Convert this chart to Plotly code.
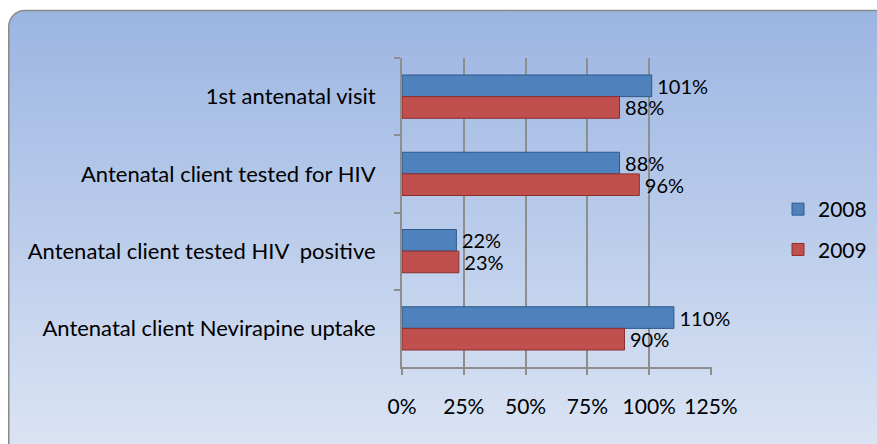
"""
Antenatal indicators 2008 vs 2009 - horizontal grouped bar chart
"""
import base64
import plotly.graph_objects as go

# Data
categories = [
    '1st antenatal visit',
    'Antenatal client tested for HIV',
    'Antenatal client tested HIV  positive',
    'Antenatal client Nevirapine uptake',
]
values_2008 = [101, 88, 22, 110]
values_2009 = [88, 96, 23, 90]
series_names = ['2008', '2009']
x_ticks = [0, 25, 50, 75, 100, 125]
x_tick_labels = ['0%', '25%', '50%', '75%', '100%', '125%']

BLUE = '#4F81BD'
RED = '#C0504D'
FONT = 'Lato, Open Sans, sans-serif'
GRID = '#8E8E8E'

W, H = 877, 444
L, T = 402, 58
R, B = W - 712, H - 367
PW, PH = W - L - R, H - T - B

# Card background (rounded, vertical gradient) as an inline svg
svg = (
    f'<svg xmlns="http://www.w3.org/2000/svg" width="{W}" height="{H}">'
    '<defs><linearGradient id="g" x1="0" y1="0" x2="0" y2="1">'
    '<stop offset="0" stop-color="#9BB5E2"/>'
    '<stop offset="1" stop-color="#DFE7F5"/>'
    '</linearGradient></defs>'
    '<rect x="8.75" y="10.5" width="900" height="470" rx="16" ry="16" '
    'fill="url(#g)" stroke="#8A8A8A" stroke-width="1.5"/>'
    '</svg>'
)
svg_uri = 'data:image/svg+xml;base64,' + base64.b64encode(svg.encode()).decode()

fig = go.Figure()

for name, vals, color, line_color in [
    (series_names[0], values_2008, BLUE, '#2F5A8C'),
    (series_names[1], values_2009, RED, '#8C2F2D'),
]:
    fig.add_trace(go.Bar(
        name=name,
        legendgroup=name,
        y=categories,
        x=vals,
        orientation='h',
        marker=dict(color=color, line=dict(color=line_color, width=1)),
        text=[f'\u2009{v}%' for v in vals],
        textposition='outside',
        constraintext='none',
        cliponaxis=False,
        textfont=dict(family=FONT, size=20, color='black'),
        hovertemplate='<b>%{y}</b><br>' + name + ': %{x}%<extra></extra>',
    ))

fig.update_layout(
    width=W,
    height=H,
    margin=dict(l=L, r=R, t=T, b=B, autoexpand=False),
    paper_bgcolor='white',
    plot_bgcolor='rgba(0,0,0,0)',
    barmode='group',
    bargap=0.44,
    bargroupgap=0,
    font=dict(family=FONT, size=21, color='black'),
    images=[dict(
        source=svg_uri, xref='paper', yref='paper',
        x=-L / PW, y=1 + T / PH, sizex=W / PW, sizey=H / PH,
        xanchor='left', yanchor='top', sizing='stretch', layer='below',
    )],
    legend=dict(
        x=(778 - L) / PW, y=1 - (229.5 - T) / PH, xanchor='left', yanchor='middle',
        font=dict(family=FONT, size=21, color='black'),
        bgcolor='rgba(0,0,0,0)',
        tracegroupgap=10,
        traceorder='grouped',
        itemwidth=30,
    ),
    showlegend=True,
)

fig.update_xaxes(
    range=[0, 125.4],
    tickvals=x_ticks,
    ticktext=x_tick_labels,
    tickfont=dict(family=FONT, size=21, color='black'),
    showgrid=True, gridcolor=GRID, gridwidth=2,
    showline=True, linecolor=GRID, linewidth=2,
    ticks='outside', ticklen=6, tickcolor=GRID, tickwidth=2,
    ticklabelstandoff=14,
    zeroline=False,
    fixedrange=True,
)
fig.update_yaxes(
    autorange='reversed',
    tickfont=dict(family=FONT, size=22, color='black'),
    showgrid=False,
    showline=True, linecolor=GRID, linewidth=2,
    ticks='outside', ticklen=6, tickcolor=GRID, tickwidth=2,
    tickson='boundaries',
    ticklabelstandoff=20,
    fixedrange=True,
)

# drop the default page margin so the figure fills the window exactly
fig.write_html(
    'out.html',
    config={'displayModeBar': False},
    post_script="document.body.style.margin='0';document.body.style.overflow='hidden';",
)
